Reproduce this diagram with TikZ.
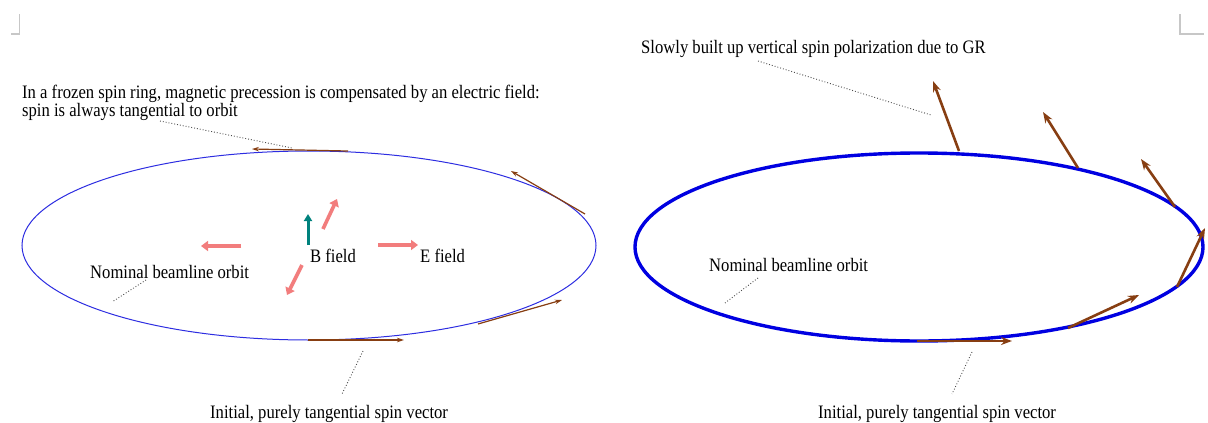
\documentclass[tikz,border=0pt]{standalone}
\usepackage{graphicx}
\usepackage{fontspec}
\setmainfont{Liberation Serif}
\usetikzlibrary{arrows.meta}
\definecolor{orbitthin}{RGB}{45,45,225}
\definecolor{orbitthick}{RGB}{0,0,225}
\definecolor{spinbrown}{RGB}{135,62,18}
\definecolor{fieldpink}{RGB}{242,125,125}
\definecolor{bteal}{RGB}{0,130,125}
\newcommand{\sq}[1]{\scalebox{0.875}[1]{#1}}
\begin{document}
\begin{tikzpicture}[x=1pt,y=-1pt,
  lbl/.style={font=\fontsize{19}{15}\selectfont, inner sep=0pt, anchor=base west},
  leader/.style={draw=black!70, dotted, line width=0.9pt},
  spinthin/.style={draw=spinbrown, line width=1.2pt, -{Stealth[length=7pt,width=4.5pt]}},
  spinthick/.style={draw=spinbrown, line width=2.6pt, -{Stealth[length=11pt,width=8pt]}},
  fieldarrow/.style={draw=fieldpink, line width=3.6pt, -{Triangle[length=7pt,width=10pt]}},
  barrow/.style={draw=bteal, line width=3pt, -{Triangle[length=7pt,width=8pt]}},
  cropmark/.style={draw=black!22, line width=1.2pt}
]
\useasboundingbox (0,0) rectangle (1208,423);
\fill[white] (0,0) rectangle (1208,423);

% crop marks
\draw[cropmark] (19.5,14) -- (19.5,34) -- (11,34);
\draw[cropmark] (1180,14) -- (1180,34) -- (1204,34);

% ===== left panel =====
\draw[orbitthin, line width=1pt] (309,245.5) ellipse [x radius=287pt, y radius=94.5pt];

\node[lbl, anchor=north west, align=left, font=\fontsize{19}{15.5}\selectfont] (frozen) at (22,85)
  {\sq{In a frozen spin ring, magnetic precession is compensated by an electric field:}\\
   \sq{spin is always tangential to orbit}};
\node[lbl] (nomL) at (90,278) {\sq{Nominal beamline orbit}};
\node[lbl] (bfield) at (310,262) {\sq{B field}};
\node[lbl] (efield) at (420,262) {\sq{E field}};
\node[lbl] (initL) at (210,418) {\sq{Initial, purely tangential spin vector}};

\coordinate (l1a) at (160,121); \coordinate (l1b) at (292,148);
\coordinate (l2a) at (146,280); \coordinate (l2b) at (112,302);
\coordinate (l3a) at (363,351); \coordinate (l3b) at (342,394);
\draw[leader] (l1a) -- (l1b);
\draw[leader] (l2a) -- (l2b);
\draw[leader] (l3a) -- (l3b);

\coordinate (s1a) at (348,151); \coordinate (s1b) at (252,149);
\coordinate (s2a) at (585,214); \coordinate (s2b) at (511,171);
\coordinate (s3a) at (478,324); \coordinate (s3b) at (562,300);
\coordinate (s4a) at (308,340); \coordinate (s4b) at (404,340);
\draw[spinthin] (s1a) -- (s1b);
\draw[spinthin] (s2a) -- (s2b);
\draw[spinthin] (s3a) -- (s3b);
\draw[spinthin] (s4a) -- (s4b);

\coordinate (f1a) at (241,246); \coordinate (f1b) at (201,246);
\coordinate (f2a) at (323,229); \coordinate (f2b) at (337,199);
\coordinate (f3a) at (302,265); \coordinate (f3b) at (287,295);
\coordinate (f4a) at (378,245); \coordinate (f4b) at (418,245);
\coordinate (ba) at (308,245); \coordinate (bb) at (308,214);
\draw[fieldarrow] (f1a) -- (f1b);
\draw[fieldarrow] (f2a) -- (f2b);
\draw[fieldarrow] (f3a) -- (f3b);
\draw[fieldarrow] (f4a) -- (f4b);
\draw[barrow] (ba) -- (bb);

% ===== right panel =====
\draw[orbitthick, line width=3.4pt] (919,247) ellipse [x radius=284pt, y radius=94pt];

\node[lbl] (slowly) at (641,53) {\sq{Slowly built up vertical spin polarization due to GR}};
\node[lbl] (nomR) at (709,271) {\sq{Nominal beamline orbit}};
\node[lbl] (initR) at (818,418) {\sq{Initial, purely tangential spin vector}};

\coordinate (r1a) at (758,61); \coordinate (r1b) at (931,115);
\coordinate (r2a) at (758,278); \coordinate (r2b) at (725,303);
\coordinate (r3a) at (972,352); \coordinate (r3b) at (952,394);
\draw[leader] (r1a) -- (r1b);
\draw[leader] (r2a) -- (r2b);
\draw[leader] (r3a) -- (r3b);

\coordinate (t1a) at (959,151); \coordinate (t1b) at (933,81);
\coordinate (t2a) at (1078,168); \coordinate (t2b) at (1043,112);
\coordinate (t3a) at (1175,207); \coordinate (t3b) at (1141,159);
\coordinate (t4a) at (1177,287); \coordinate (t4b) at (1205,228);
\coordinate (t5a) at (1068,328); \coordinate (t5b) at (1139,295);
\coordinate (t6a) at (917,341); \coordinate (t6b) at (1012,341);
\foreach \p in {t1,t2,t3,t4,t5,t6} \draw[spinthick] (\p a) -- (\p b);
\end{tikzpicture}
\end{document}
